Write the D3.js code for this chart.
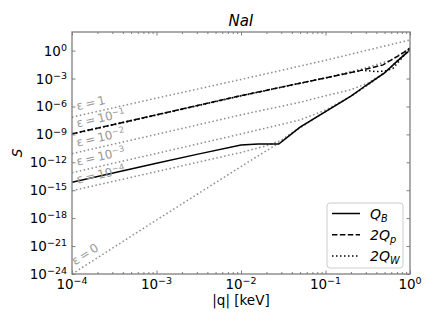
<!DOCTYPE html>
<html>
<head>
<meta charset="utf-8">
<script src="https://cdn.jsdelivr.net/npm/d3@7"></script>
<style>
  body { margin: 0; background: #fff; }
  svg { font-family: "DejaVu Sans", sans-serif; }
</style>
</head>
<body>
<div class="container"></div>
<script>
// ---- data ----
// gray reference curves, one per epsilon
const eps1_q = [1e-4, 1e-3, 1e-2, 1e-1, 1];
const eps1_S = [7.1e-8, 7.9e-6, 7.9e-4, 9.1e-2, 14];

const epsM1_q = [1e-4, 1e-3, 1e-2, 0.1, 0.3, 0.6, 1];
const epsM1_S = [1.0e-9, 1.12e-7, 1.26e-5, 1.17e-3, 1.41e-2, 0.1, 2.0];

const epsM2_q = [1e-4, 1e-3, 1e-2, 0.05, 0.1, 0.2, 0.316, 0.5, 1];
const epsM2_S = [8.5e-12, 1.0e-9, 1.26e-7, 2.8e-6, 1.41e-5, 6.3e-5, 3.16e-4, 4.5e-3, 1.32];

const epsM3_q = [1e-4, 1e-3, 1e-2, 0.03, 0.05, 0.1, 0.2, 0.316, 0.5, 1];
const epsM3_S = [7.6e-14, 8.9e-12, 1.12e-9, 1.17e-8, 3.6e-8, 4.1e-7, 1.32e-5, 2.0e-4, 4.2e-3, 1.2];

const epsM4_q = [1e-4, 1e-3, 1e-2, 0.02, 0.03, 0.05, 0.1, 0.2, 0.316, 0.5, 1];
const epsM4_S = [8.9e-16, 1.0e-13, 1.15e-11, 5.9e-11, 2.4e-10, 5.9e-9, 2.95e-7, 1.26e-5, 2.0e-4, 4.2e-3, 1.2];

const eps0_q = [1e-4, 1e-3, 1e-2, 0.029, 0.05, 0.1, 0.2, 0.316, 0.5, 1];
const eps0_S = [1e-24, 6.3e-19, 3.5e-13, 1.41e-10, 5.0e-9, 2.8e-7, 1.26e-5, 2.0e-4, 4.2e-3, 1.2];

const epsLabels = ['1', '10|−1', '10|−2', '10|−3', '10|−4', '0'];

// black curves
const QB_q = [1e-4, 1e-3, 3e-3, 1e-2, 0.016, 0.028, 0.05, 0.1, 0.2, 0.3, 0.5, 0.7, 1];
const QB_S = [7.1e-15, 7.9e-13, 7.1e-12, 7.1e-11, 9.1e-11, 9.3e-11, 6.0e-9, 2.8e-7, 1.26e-5, 1.78e-4, 4.0e-3, 6.9e-2, 1.2];

const Qp_q = [1e-4, 1e-3, 1e-2, 0.05, 0.1, 0.256, 0.48, 0.75, 1];
const Qp_S = [1.15e-9, 1.26e-7, 1.45e-5, 3.16e-4, 1.17e-3, 7.1e-3, 2.95e-2, 0.316, 1.82];

const QW_q = [1e-4, 1e-3, 1e-2, 0.05, 0.1, 0.27, 0.4, 0.5, 0.63, 0.8, 1];
const QW_S = [1.15e-9, 1.26e-7, 1.45e-5, 3.16e-4, 1.17e-3, 7.9e-3, 5.6e-3, 6.3e-3, 1.26e-2, 0.158, 1.82];

const xTickExp = [-4, -3, -2, -1, 0];
const yTickExp = [-24, -21, -18, -15, -12, -9, -6, -3, 0];

// ---- layout ----
const width = 436;
const height = 327;
const margin = { top: 32, right: 26, bottom: 53, left: 72 };
const plotW = width - margin.left - margin.right;
const plotH = height - margin.top - margin.bottom;

const spineColor = '#7f7f7f';
const epsColor = '#8c8c8c';

const svg = d3.select('.container')
    .append('svg')
    .attr('width', width)
    .attr('height', height)
    .style('background', '#fff');

const g = svg.append('g')
    .attr('transform', `translate(${margin.left},${margin.top})`);

const x = d3.scaleLog().domain([1e-4, 1]).range([0, plotW]);
const y = d3.scaleLog().domain([1e-24, 1e2]).range([plotH, 0]);

g.append('clipPath').attr('id', 'plotClip')
    .append('rect').attr('width', plotW).attr('height', plotH);

const line = d3.line()
    .x(d => x(d[0]))
    .y(d => y(d[1]));

const plot = g.append('g').attr('clip-path', 'url(#plotClip)');

const epsSeries = [
    [eps1_q, eps1_S],
    [epsM1_q, epsM1_S],
    [epsM2_q, epsM2_S],
    [epsM3_q, epsM3_S],
    [epsM4_q, epsM4_S],
    [eps0_q, eps0_S]
];

epsSeries.forEach(([q, s]) => {
    plot.append('path')
        .attr('d', line(d3.zip(q, s)))
        .attr('fill', 'none')
        .attr('stroke', epsColor)
        .attr('stroke-width', 1.5)
        .attr('stroke-dasharray', '1.5,2.5');
});

// epsilon labels sit along the first segment of each gray curve
epsSeries.forEach(([q, s], i) => {
    const x0 = x(q[0]), y0 = y(s[0]);
    const x1 = x(q[1]), y1 = y(s[1]);
    const a = Math.atan2(y1 - y0, x1 - x0);
    const ax = x0 + 7 * Math.cos(a) + 5.5 * Math.sin(a);
    const ay = y0 + 7 * Math.sin(a) - 5.5 * Math.cos(a);
    const parts = epsLabels[i].split('|');
    const t = g.append('text')
        .attr('transform', `translate(${ax},${ay}) rotate(${a * 180 / Math.PI})`)
        .attr('fill', '#999')
        .attr('font-size', 12);
    t.append('tspan').text('ε\u2009=\u2009' + parts[0]);
    if (parts[1]) {
        t.append('tspan').attr('dy', '-0.45em').attr('font-size', 8.5).text(parts[1]);
    }
});

plot.append('path')
    .attr('d', line(d3.zip(QB_q, QB_S)))
    .attr('fill', 'none')
    .attr('stroke', '#000')
    .attr('stroke-width', 1.5);

plot.append('path')
    .attr('d', line(d3.zip(Qp_q, Qp_S)))
    .attr('fill', 'none')
    .attr('stroke', '#000')
    .attr('stroke-width', 1.5)
    .attr('stroke-dasharray', '5.5,2.4');

plot.append('path')
    .attr('d', line(d3.zip(QW_q, QW_S)))
    .attr('fill', 'none')
    .attr('stroke', '#000')
    .attr('stroke-width', 1.5)
    .attr('stroke-dasharray', '1.5,2.5');

// ---- axes (ticks pointing in, on all four sides) ----
const xMajor = xTickExp.map(e => Math.pow(10, e));
const yMajor = yTickExp.map(e => Math.pow(10, e));
const xMinor = x.ticks().filter(v => !xMajor.some(m => Math.abs(v / m - 1) < 1e-6));

function styleAxis(sel) {
    sel.select('.domain').remove();
    sel.selectAll('.tick line').attr('stroke', spineColor).attr('stroke-width', 1);
}

g.append('g').attr('transform', `translate(0,${plotH})`)
    .call(d3.axisBottom(x).tickValues(xMajor).tickSize(-3.5).tickFormat(''))
    .call(styleAxis);
g.append('g').attr('transform', `translate(0,${plotH})`)
    .call(d3.axisBottom(x).tickValues(xMinor).tickSize(-2).tickFormat(''))
    .call(styleAxis);
g.append('g')
    .call(d3.axisTop(x).tickValues(xMajor).tickSize(-3.5).tickFormat(''))
    .call(styleAxis);
g.append('g')
    .call(d3.axisTop(x).tickValues(xMinor).tickSize(-2).tickFormat(''))
    .call(styleAxis);
g.append('g')
    .call(d3.axisLeft(y).tickValues(yMajor).tickSize(-3.5).tickFormat(''))
    .call(styleAxis);
g.append('g').attr('transform', `translate(${plotW},0)`)
    .call(d3.axisRight(y).tickValues(yMajor).tickSize(-3.5).tickFormat(''))
    .call(styleAxis);

g.append('rect')
    .attr('width', plotW)
    .attr('height', plotH)
    .attr('fill', 'none')
    .attr('stroke', spineColor)
    .attr('stroke-width', 1.3);

function powerLabel(sel, e) {
    sel.append('tspan').text('10');
    sel.append('tspan')
        .attr('dy', '-0.5em')
        .attr('font-size', 9.5)
        .text(e < 0 ? '−' + (-e) : String(e));
}

xTickExp.forEach(e => {
    g.append('text')
        .attr('x', x(Math.pow(10, e)))
        .attr('y', plotH + 15)
        .attr('text-anchor', 'middle')
        .attr('font-size', 13.5)
        .attr('fill', '#000')
        .call(powerLabel, e);
});

yTickExp.forEach(e => {
    g.append('text')
        .attr('x', -5)
        .attr('y', y(Math.pow(10, e)) + 5)
        .attr('text-anchor', 'end')
        .attr('font-size', 13.5)
        .attr('fill', '#000')
        .call(powerLabel, e);
});

// ---- titles ----
svg.append('text')
    .attr('x', margin.left + plotW / 2)
    .attr('y', 26)
    .attr('text-anchor', 'middle')
    .attr('font-size', 15)
    .attr('font-style', 'italic')
    .text('NaI');

svg.append('text')
    .attr('x', margin.left + plotW / 2)
    .attr('y', 305)
    .attr('text-anchor', 'middle')
    .attr('font-size', 13.5)
    .text('|q| [keV]');

svg.append('text')
    .attr('transform', `translate(22,${margin.top + plotH / 2}) rotate(-90)`)
    .attr('text-anchor', 'middle')
    .attr('font-size', 13.5)
    .attr('font-style', 'italic')
    .text('S');

// ---- legend ----
const legendItems = [
    { main: 'Q', sub: 'B', dash: null },
    { main: '2Q', sub: 'p', dash: '5.5,2.4' },
    { main: '2Q', sub: 'W', dash: '1.5,2.5' }
];

const legend = svg.append('g').attr('transform', 'translate(327,203)');
legend.append('rect')
    .attr('width', 76)
    .attr('height', 65)
    .attr('rx', 3)
    .attr('fill', '#fff')
    .attr('fill-opacity', 0.8)
    .attr('stroke', '#ccc')
    .attr('stroke-width', 1);

legendItems.forEach((d, i) => {
    const ly = 10.5 + i * 21.2;
    legend.append('line')
        .attr('x1', 5).attr('x2', 33)
        .attr('y1', ly).attr('y2', ly)
        .attr('stroke', '#000')
        .attr('stroke-width', 1.5)
        .attr('stroke-dasharray', d.dash);
    const t = legend.append('text')
        .attr('x', 43)
        .attr('y', ly + 5)
        .attr('font-size', 14)
        .attr('font-style', 'italic');
    t.append('tspan').text(d.main);
    t.append('tspan').attr('dy', 3).attr('font-size', 9.8).text(d.sub);
});
</script>
</body>
</html>
